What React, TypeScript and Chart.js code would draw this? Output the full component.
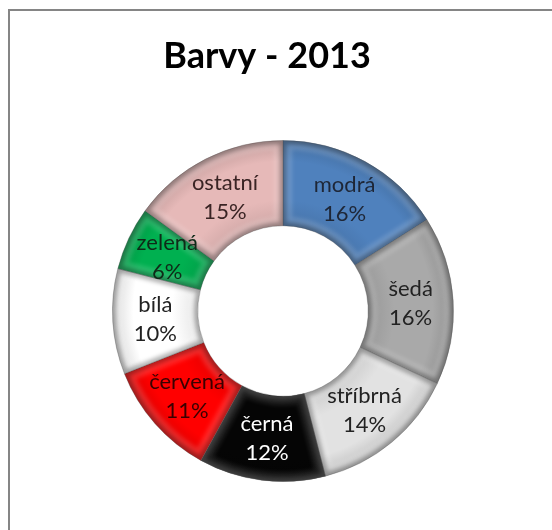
import React, { useEffect, useRef } from "react";
import { Chart, registerables } from "chart.js";
Chart.register(...registerables);

const TITLE = "Barvy - 2013";
const categories = ["modrá", "šedá", "stříbrná", "černá", "červená", "bílá", "zelená", "ostatní"];
const values = [16, 16, 14, 12, 11, 10, 6, 15];
const colors = ["#4F81BD", "#A9A9A9", "#E2E2E2", "#050505", "#FF0000", "#FFFFFF", "#00B050", "#E6B9B8"];
const labelColors = ["#1e2636", "#222222", "#222222", "#FFFFFF", "#3a0000", "#222222", "#0f2a18", "#3a2424"];

function shade(hex: string, amt: number): string {
  const n = parseInt(hex.slice(1), 16);
  let r = (n >> 16) & 255, g = (n >> 8) & 255, b = n & 255;
  if (amt < 0) {
    r = Math.round(r * (1 + amt)); g = Math.round(g * (1 + amt)); b = Math.round(b * (1 + amt));
  } else {
    r = Math.round(r + (255 - r) * amt); g = Math.round(g + (255 - g) * amt); b = Math.round(b + (255 - b) * amt);
  }
  return `rgb(${r},${g},${b})`;
}

const CUTOUT = 0.5;

const framePlugin = {
  id: "frame",
  beforeDraw(chart: any) {
    const c = chart.ctx;
    c.save();
    c.fillStyle = "#ffffff";
    c.fillRect(0, 0, chart.width, chart.height);
    c.fillStyle = "#858585";
    c.fillRect(8, 9, 2, chart.height - 9);
    c.fillRect(8, 9, chart.width - 8, 2);
    c.fillStyle = "#000000";
    c.font = "bold 36px Lato";
    c.textAlign = "center";
    c.textBaseline = "alphabetic";
    c.fillText(TITLE, 267, 68);
    c.restore();
  },
};

function arcPath(c: any, arc: any) {
  const { x, y, startAngle, endAngle, innerRadius, outerRadius } = arc.getProps(
    ["x", "y", "startAngle", "endAngle", "innerRadius", "outerRadius"],
    true
  );
  c.beginPath();
  c.arc(x, y, outerRadius, startAngle, endAngle);
  c.arc(x, y, innerRadius, endAngle, startAngle, true);
  c.closePath();
}

const bevelPlugin = {
  id: "bevel",
  afterDatasetsDraw(chart: any) {
    const c = chart.ctx;
    const meta = chart.getDatasetMeta(0);
    meta.data.forEach((arc: any, i: number) => {
      c.save();
      arcPath(c, arc);
      c.clip();
      c.filter = "blur(2px)";
      c.lineJoin = "round";
      arcPath(c, arc);
      c.lineWidth = 18;
      c.strokeStyle = i === 3 ? "rgba(255,255,255,0.1)" : "rgba(255,255,255,0.16)";
      c.stroke();
      arcPath(c, arc);
      c.lineWidth = 7;
      c.strokeStyle = i === 3 ? "rgba(90,90,90,0.55)" : "rgba(0,0,0,0.3)";
      c.stroke();
      c.restore();
    });
  },
};

const labelPlugin = {
  id: "sliceLabels",
  afterDatasetsDraw(chart: any) {
    const c = chart.ctx;
    const meta = chart.getDatasetMeta(0);
    c.save();
    c.font = "22px Lato";
    c.textAlign = "center";
    c.textBaseline = "middle";
    meta.data.forEach((arc: any, i: number) => {
      const p = arc.getCenterPoint();
      c.fillStyle = labelColors[i];
      c.fillText(categories[i], p.x, p.y - 14);
      c.fillText(values[i] + "%", p.x, p.y + 15);
    });
    c.restore();
  },
};

export default function App() {
  const ref = useRef<HTMLCanvasElement | null>(null);
  useEffect(() => {
    if (!ref.current) return;
    const chart = new Chart(ref.current, {
      type: "doughnut",
      data: {
        labels: categories,
        datasets: [
          {
            data: values,
            backgroundColor: (ctx: any) => {
              const base = colors[ctx.dataIndex];
              const area = ctx.chart.chartArea;
              if (!area) return base;
              const cx = (area.left + area.right) / 2;
              const cy = (area.top + area.bottom) / 2;
              const outer = Math.min(area.right - area.left, area.bottom - area.top) / 2;
              const inner = outer * CUTOUT;
              const g = ctx.chart.ctx.createRadialGradient(cx, cy, inner, cx, cy, outer);
              g.addColorStop(0, shade(base, -0.1));
              g.addColorStop(0.3, base);
              g.addColorStop(0.75, base);
              g.addColorStop(1, shade(base, -0.15));
              return g;
            },
            borderColor: "rgba(60,60,60,0.3)",
            borderWidth: 1,
          },
        ],
      },
      options: {
        responsive: false,
        animation: false,
        cutout: "50%",
        layout: { padding: { left: 112, right: 98, top: 140, bottom: 48 } },
        plugins: {
          legend: { display: false },
          title: { display: false },
          tooltip: { enabled: false },
        },
      },
      plugins: [framePlugin, bevelPlugin, labelPlugin],
    });
    return () => chart.destroy();
  }, []);
  return (
    <div style={{ position: "fixed", left: 0, top: 0, width: 552, height: 530 }}>
      <canvas ref={ref} width={552} height={530} style={{ width: 552, height: 530, display: "block" }} />
    </div>
  );
}
